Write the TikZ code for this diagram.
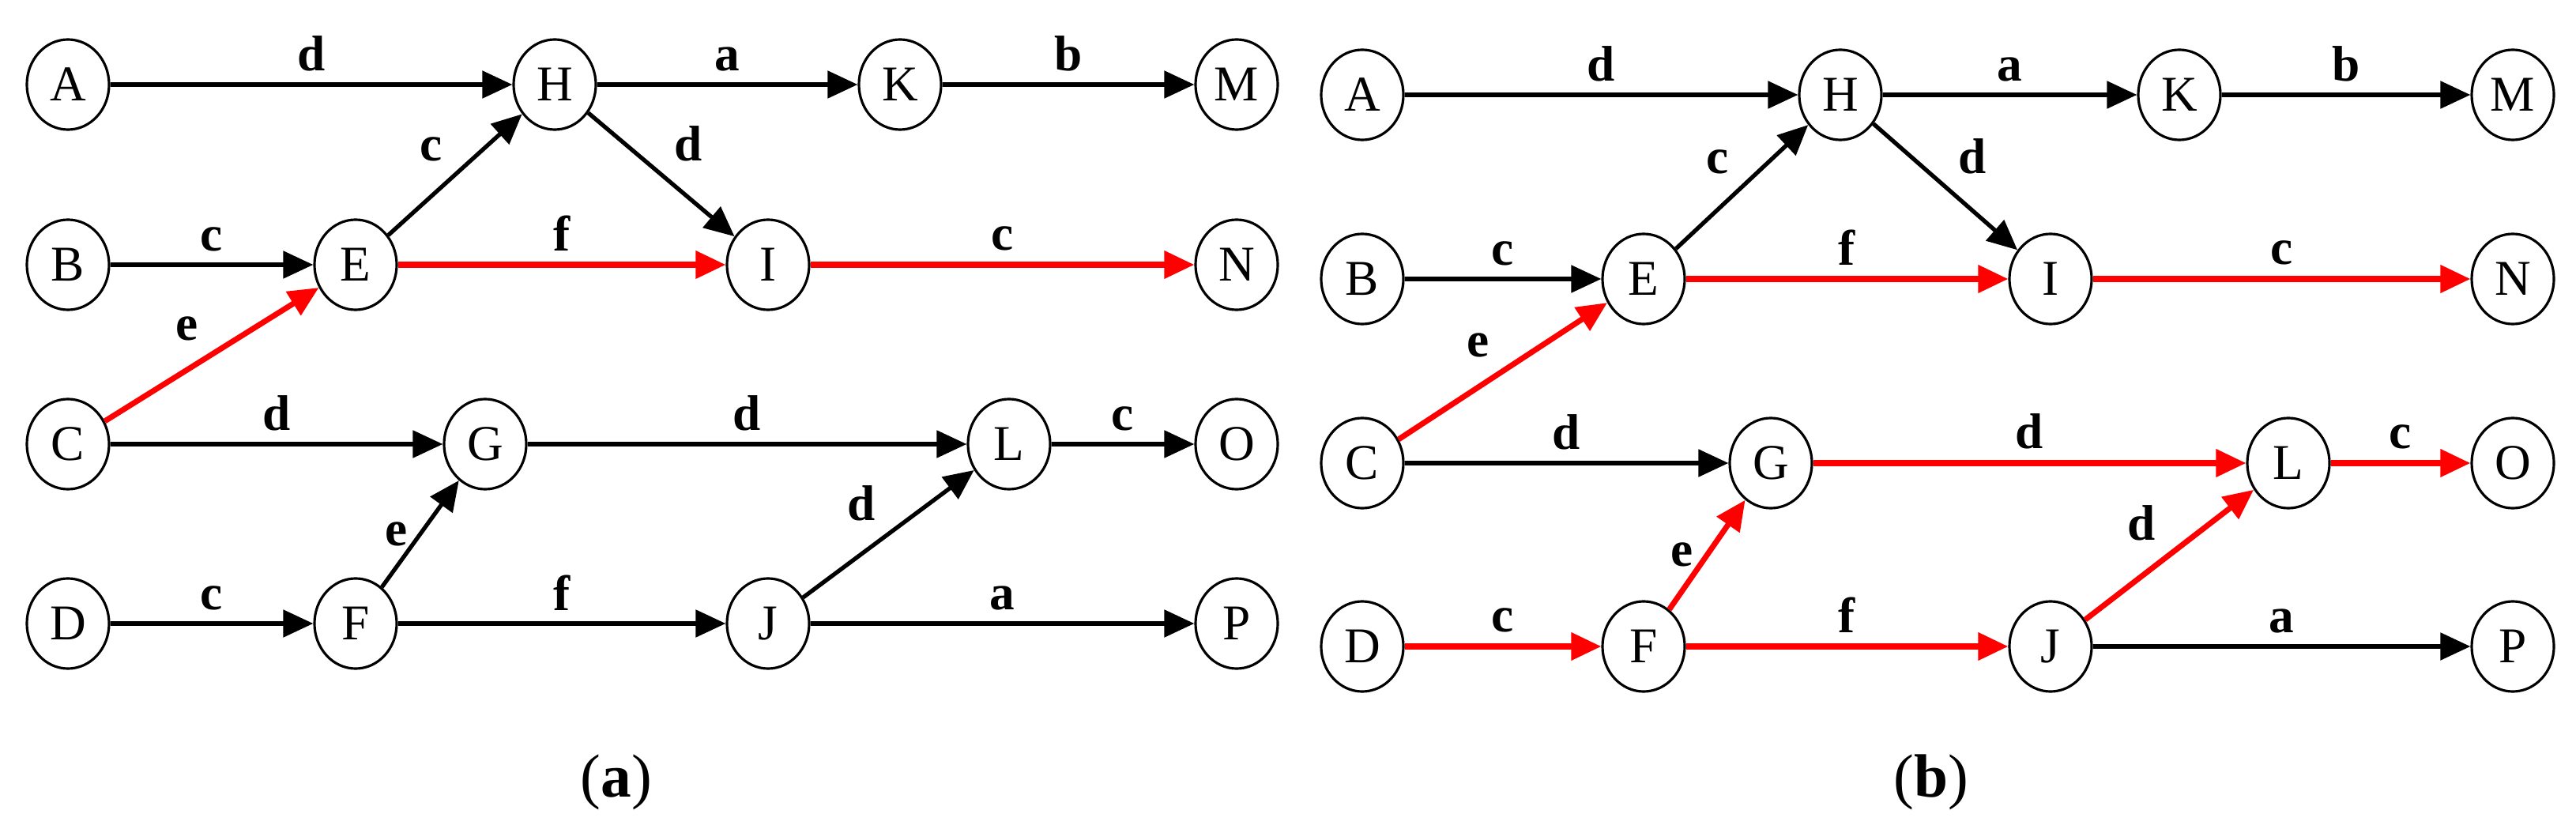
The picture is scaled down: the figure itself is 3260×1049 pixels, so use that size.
\documentclass[tikz,border=0pt]{standalone}
\usepackage{fontspec}
\setmainfont{Liberation Serif}
\usetikzlibrary{arrows.meta,shapes.geometric}

\begin{document}
\begin{tikzpicture}[x=0.01cm,y=-0.01cm,
  state/.style={ellipse,draw,line width=0.9pt,minimum width=1.04cm,minimum height=1.14cm,inner sep=0pt,font=\fontsize{18}{18}\selectfont},
  edge/.style={-{Triangle[length=0.38cm,width=0.34cm]},line width=1.5pt},
  hot/.style={edge,red,line width=2pt},
  lab/.style={text=black,font=\bfseries\fontsize{18}{18}\selectfont,inner sep=4pt}]
  \useasboundingbox (0,0) rectangle (3260,1049);
    % Panel (a)
    \node[state] (A) at (86,107) {A};
    \node[state] (H) at (702,107) {H};
    \node[state] (K) at (1139,107) {K};
    \node[state] (M) at (1565,107) {M};
    \node[state] (B) at (86,335) {B};
    \node[state] (E) at (450,335) {E};
    \node[state] (I) at (972,335) {I};
    \node[state] (N) at (1565,335) {N};
    \node[state] (C) at (86,562) {C};
    \node[state] (G) at (614,562) {G};
    \node[state] (L) at (1277,562) {L};
    \node[state] (O) at (1565,562) {O};
    \node[state] (D) at (86,789) {D};
    \node[state] (F) at (450,789) {F};
    \node[state] (J) at (972,789) {J};
    \node[state] (P) at (1565,789) {P};
    \draw[edge] (A) -- (H) node[midway,above,lab] {d};
    \draw[edge] (H) -- (K) node[midway,above,lab] {a};
    \draw[edge] (K) -- (M) node[midway,above,lab] {b};
    \draw[edge] (B) -- (E) node[midway,above,lab] {c};
    \draw[edge] (E) -- (H) node[midway,above left,lab] {c};
    \draw[edge] (H) -- (I) node[midway,above right,lab] {d};
    \draw[hot] (E) -- (I) node[midway,above,lab] {f};
    \draw[hot] (I) -- (N) node[midway,above,lab] {c};
    \draw[hot] (C) -- (E) node[midway,above left,lab] {e};
    \draw[edge] (C) -- (G) node[midway,above,lab] {d};
    \draw[edge] (G) -- (L) node[midway,above,lab] {d};
    \draw[edge] (L) -- (O) node[midway,above,lab] {c};
    \draw[edge] (D) -- (F) node[midway,above,lab] {c};
    \draw[edge] (F) -- (G) node[midway,left,lab] {e};
    \draw[edge] (F) -- (J) node[midway,above,lab] {f};
    \draw[edge] (J) -- (L) node[midway,above left,lab] {d};
    \draw[edge] (J) -- (P) node[midway,above,lab] {a};
    \node[font=\fontsize{22}{22}\selectfont] (capa) at (780,990) {(\textbf{a})};
    % Panel (b)
    \node[state] (Ab) at (1724,120) {A};
    \node[state] (Hb) at (2329,120) {H};
    \node[state] (Kb) at (2758,120) {K};
    \node[state] (Mb) at (3180,120) {M};
    \node[state] (Bb) at (1724,353) {B};
    \node[state] (Eb) at (2080,353) {E};
    \node[state] (Ib) at (2595,353) {I};
    \node[state] (Nb) at (3180,353) {N};
    \node[state] (Cb) at (1724,586) {C};
    \node[state] (Gb) at (2241,586) {G};
    \node[state] (Lb) at (2896,586) {L};
    \node[state] (Ob) at (3180,586) {O};
    \node[state] (Db) at (1724,818) {D};
    \node[state] (Fb) at (2080,818) {F};
    \node[state] (Jb) at (2595,818) {J};
    \node[state] (Pb) at (3180,818) {P};
    \draw[edge] (Ab) -- (Hb) node[midway,above,lab] {d};
    \draw[edge] (Hb) -- (Kb) node[midway,above,lab] {a};
    \draw[edge] (Kb) -- (Mb) node[midway,above,lab] {b};
    \draw[edge] (Bb) -- (Eb) node[midway,above,lab] {c};
    \draw[edge] (Eb) -- (Hb) node[midway,above left,lab] {c};
    \draw[edge] (Hb) -- (Ib) node[midway,above right,lab] {d};
    \draw[hot] (Eb) -- (Ib) node[midway,above,lab] {f};
    \draw[hot] (Ib) -- (Nb) node[midway,above,lab] {c};
    \draw[hot] (Cb) -- (Eb) node[midway,above left,lab] {e};
    \draw[edge] (Cb) -- (Gb) node[midway,above,lab] {d};
    \draw[hot] (Gb) -- (Lb) node[midway,above,lab] {d};
    \draw[hot] (Lb) -- (Ob) node[midway,above,lab] {c};
    \draw[hot] (Db) -- (Fb) node[midway,above,lab] {c};
    \draw[hot] (Fb) -- (Gb) node[midway,left,lab] {e};
    \draw[hot] (Fb) -- (Jb) node[midway,above,lab] {f};
    \draw[hot] (Jb) -- (Lb) node[midway,above left,lab] {d};
    \draw[edge] (Jb) -- (Pb) node[midway,above,lab] {a};
    \node[font=\fontsize{22}{22}\selectfont] (capb) at (2444,990) {(\textbf{b})};
\end{tikzpicture}
\end{document}
